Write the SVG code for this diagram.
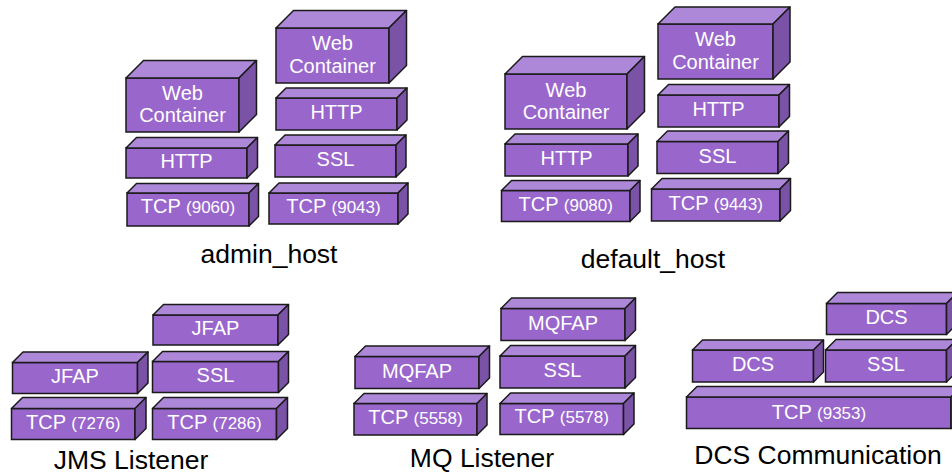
<svg xmlns="http://www.w3.org/2000/svg" width="952" height="475" viewBox="0 0 952 475">
<style>
.f{fill:#9966cc;stroke:#1a1a1a;stroke-width:1.5}
.t{fill:#ad88d9;stroke:#1a1a1a;stroke-width:1.5;stroke-linejoin:round}
.s{fill:#7a52a6;stroke:#1a1a1a;stroke-width:1.5;stroke-linejoin:round}
.l{font-family:"Liberation Sans",Arial,sans-serif;font-size:20px;fill:#fff;text-anchor:middle}
.n{font-size:17px}
.c{font-family:"Liberation Sans",Arial,sans-serif;font-size:26.5px;fill:#000;text-anchor:middle}
</style>
<rect width="952" height="475" fill="#fff"/>
<g id="connectors"/>

<!-- admin_host -->
<g id="admin-wc">
<rect class="f" x="126" y="78" width="113" height="54"/>
<polygon class="t" points="126,78 143.5,60.5 256.5,60.5 239,78"/>
<polygon class="s" points="239,78 256.5,60.5 256.5,114.5 239,132"/>
<text class="l" x="182.5" y="100">Web</text><text class="l" x="182.5" y="122">Container</text>
</g>
<g id="admin-http">
<rect class="f" x="126" y="148" width="121" height="30"/>
<polygon class="t" points="126,148 136.5,137.5 257.5,137.5 247,148"/>
<polygon class="s" points="247,148 257.5,137.5 257.5,167.5 247,178"/>
<text class="l" x="186.5" y="168">HTTP</text>
</g>
<g id="admin-tcp9060">
<rect class="f" x="127" y="193" width="122" height="33"/>
<polygon class="t" points="127,193 136.5,183.5 258.5,183.5 249,193"/>
<polygon class="s" points="249,193 258.5,183.5 258.5,216.5 249,226"/>
<text class="l" x="188" y="213">TCP <tspan class="n">(9060)</tspan></text>
</g>
<g id="admin-wc2">
<rect class="f" x="276" y="28" width="113" height="55"/>
<polygon class="t" points="276,28 293.5,10.5 406.5,10.5 389,28"/>
<polygon class="s" points="389,28 406.5,10.5 406.5,65.5 389,83"/>
<text class="l" x="332.5" y="50">Web</text><text class="l" x="332.5" y="73">Container</text>
</g>
<g id="admin-http2">
<rect class="f" x="276" y="98" width="121" height="32"/>
<polygon class="t" points="276,98 286,88 407,88 397,98"/>
<polygon class="s" points="397,98 407,88 407,120 397,130"/>
<text class="l" x="336.5" y="119">HTTP</text>
</g>
<g id="admin-ssl">
<rect class="f" x="275" y="145" width="121" height="32"/>
<polygon class="t" points="275,145 285,135 406,135 396,145"/>
<polygon class="s" points="396,145 406,135 406,167 396,177"/>
<text class="l" x="335.5" y="166">SSL</text>
</g>
<g id="admin-tcp9043">
<rect class="f" x="269" y="193" width="129" height="31"/>
<polygon class="t" points="269,193 279,183 408,183 398,193"/>
<polygon class="s" points="398,193 408,183 408,214 398,224"/>
<text class="l" x="333.5" y="213">TCP <tspan class="n">(9043)</tspan></text>
</g>
<text id="admin-label" class="c" x="269" y="263">admin_host</text>

<!-- default_host -->
<g id="default-wc">
<rect class="f" x="505" y="74" width="122" height="55"/>
<polygon class="t" points="505,74 522.5,56.5 644.5,56.5 627,74"/>
<polygon class="s" points="627,74 644.5,56.5 644.5,111.5 627,129"/>
<text class="l" x="566" y="96.5">Web</text><text class="l" x="566" y="118.5">Container</text>
</g>
<g id="default-http">
<rect class="f" x="505" y="144" width="123" height="32"/>
<polygon class="t" points="505,144 515,134 638,134 628,144"/>
<polygon class="s" points="628,144 638,134 638,166 628,176"/>
<text class="l" x="566.5" y="165">HTTP</text>
</g>
<g id="default-tcp9080">
<rect class="f" x="501.5" y="190.5" width="128.5" height="31"/>
<polygon class="t" points="501.5,190.5 511.5,180.5 640,180.5 630,190.5"/>
<polygon class="s" points="630,190.5 640,180.5 640,211.5 630,221.5"/>
<text class="l" x="565.75" y="211">TCP <tspan class="n">(9080)</tspan></text>
</g>
<g id="default-wc2">
<rect class="f" x="658" y="24" width="115" height="55"/>
<polygon class="t" points="658,24 675,7 790,7 773,24"/>
<polygon class="s" points="773,24 790,7 790,62 773,79"/>
<text class="l" x="715.5" y="46">Web</text><text class="l" x="715.5" y="68.5">Container</text>
</g>
<g id="default-http2">
<rect class="f" x="658" y="95" width="121" height="32"/>
<polygon class="t" points="658,95 668.5,84.5 789.5,84.5 779,95"/>
<polygon class="s" points="779,95 789.5,84.5 789.5,116.5 779,127"/>
<text class="l" x="718.5" y="116">HTTP</text>
</g>
<g id="default-ssl">
<rect class="f" x="657" y="141.5" width="121" height="32"/>
<polygon class="t" points="657,141.5 667.5,131 788.5,131 778,141.5"/>
<polygon class="s" points="778,141.5 788.5,131 788.5,163 778,173.5"/>
<text class="l" x="717.5" y="162.5">SSL</text>
</g>
<g id="default-tcp9443">
<rect class="f" x="651.5" y="189" width="128.5" height="32"/>
<polygon class="t" points="651.5,189 662,178.5 790.5,178.5 780,189"/>
<polygon class="s" points="780,189 790.5,178.5 790.5,210.5 780,221"/>
<text class="l" x="715.75" y="210">TCP <tspan class="n">(9443)</tspan></text>
</g>
<text id="default-label" class="c" x="653" y="268">default_host</text>

<!-- JMS Listener -->
<g id="jms-jfap">
<rect class="f" x="12.5" y="362.5" width="125" height="31"/>
<polygon class="t" points="12.5,362.5 23,352 148,352 137.5,362.5"/>
<polygon class="s" points="137.5,362.5 148,352 148,383 137.5,393.5"/>
<text class="l" x="75" y="383">JFAP</text>
</g>
<g id="jms-tcp7276">
<rect class="f" x="11.5" y="408.5" width="123.5" height="31"/>
<polygon class="t" points="11.5,408.5 22.5,397.5 146,397.5 135,408.5"/>
<polygon class="s" points="135,408.5 146,397.5 146,428.5 135,439.5"/>
<text class="l" x="73.25" y="429">TCP <tspan class="n">(7276)</tspan></text>
</g>
<g id="jms-jfap2">
<rect class="f" x="153" y="315" width="125" height="30"/>
<polygon class="t" points="153,315 163.5,304.5 288.5,304.5 278,315"/>
<polygon class="s" points="278,315 288.5,304.5 288.5,334.5 278,345"/>
<text class="l" x="215.5" y="335">JFAP</text>
</g>
<g id="jms-ssl">
<rect class="f" x="152.5" y="361.5" width="126" height="31"/>
<polygon class="t" points="152.5,361.5 162.5,351.5 288.5,351.5 278.5,361.5"/>
<polygon class="s" points="278.5,361.5 288.5,351.5 288.5,382.5 278.5,392.5"/>
<text class="l" x="215.5" y="382">SSL</text>
</g>
<g id="jms-tcp7286">
<rect class="f" x="152.5" y="408.5" width="124" height="31"/>
<polygon class="t" points="152.5,408.5 163.5,397.5 287.5,397.5 276.5,408.5"/>
<polygon class="s" points="276.5,408.5 287.5,397.5 287.5,428.5 276.5,439.5"/>
<text class="l" x="214.5" y="428.5">TCP <tspan class="n">(7286)</tspan></text>
</g>
<text id="jms-label" class="c" x="131" y="469">JMS Listener</text>

<!-- MQ Listener -->
<g id="mq-mqfap">
<rect class="f" x="355" y="356.5" width="124" height="32"/>
<polygon class="t" points="355,356.5 365.5,346 489.5,346 479,356.5"/>
<polygon class="s" points="479,356.5 489.5,346 489.5,378 479,388.5"/>
<text class="l" x="417" y="377.5">MQFAP</text>
</g>
<g id="mq-tcp5558">
<rect class="f" x="354" y="403.5" width="123" height="31.5"/>
<polygon class="t" points="354,403.5 364,393.5 487,393.5 477,403.5"/>
<polygon class="s" points="477,403.5 487,393.5 487,425 477,435"/>
<text class="l" x="415.5" y="424">TCP <tspan class="n">(5558)</tspan></text>
</g>
<g id="mq-mqfap2">
<rect class="f" x="501" y="308.5" width="124" height="32"/>
<polygon class="t" points="501,308.5 511.5,298 635.5,298 625,308.5"/>
<polygon class="s" points="625,308.5 635.5,298 635.5,330 625,340.5"/>
<text class="l" x="563" y="329.5">MQFAP</text>
</g>
<g id="mq-ssl">
<rect class="f" x="500" y="356" width="125" height="32"/>
<polygon class="t" points="500,356 510.5,345.5 635.5,345.5 625,356"/>
<polygon class="s" points="625,356 635.5,345.5 635.5,377.5 625,388"/>
<text class="l" x="562.5" y="377">SSL</text>
</g>
<g id="mq-tcp5578">
<rect class="f" x="500" y="403.5" width="123.5" height="31"/>
<polygon class="t" points="500,403.5 510.5,393 634,393 623.5,403.5"/>
<polygon class="s" points="623.5,403.5 634,393 634,424 623.5,434.5"/>
<text class="l" x="561.75" y="423">TCP <tspan class="n">(5578)</tspan></text>
</g>
<text id="mq-label" class="c" x="482" y="467">MQ Listener</text>

<!-- DCS Communication -->
<g id="dcs-dcs2">
<rect class="f" x="826.5" y="303.5" width="120" height="31"/>
<polygon class="t" points="826.5,303.5 837.5,292.5 957.5,292.5 946.5,303.5"/>
<polygon class="s" points="946.5,303.5 957.5,292.5 957.5,323.5 946.5,334.5"/>
<text class="l" x="886.5" y="324">DCS</text>
</g>
<g id="dcs-dcs">
<rect class="f" x="692.5" y="350" width="121" height="32"/>
<polygon class="t" points="692.5,350 702.5,340 823.5,340 813.5,350"/>
<polygon class="s" points="813.5,350 823.5,340 823.5,372 813.5,382"/>
<text class="l" x="753" y="371">DCS</text>
</g>
<g id="dcs-ssl">
<rect class="f" x="825.5" y="350" width="121" height="32"/>
<polygon class="t" points="825.5,350 836,339.5 957,339.5 946.5,350"/>
<polygon class="s" points="946.5,350 957,339.5 957,371.5 946.5,382"/>
<text class="l" x="886" y="371">SSL</text>
</g>
<g id="dcs-tcp9353">
<rect class="f" x="686.5" y="397" width="264.5" height="31.5"/>
<polygon class="t" points="686.5,397 697,386.5 961.5,386.5 951,397"/>
<polygon class="s" points="951,397 961.5,386.5 961.5,418 951,428.5"/>
<text class="l" x="819" y="419">TCP <tspan class="n">(9353)</tspan></text>
</g>
<text id="dcs-label" class="c" x="818" y="464">DCS Communication</text>
</svg>
